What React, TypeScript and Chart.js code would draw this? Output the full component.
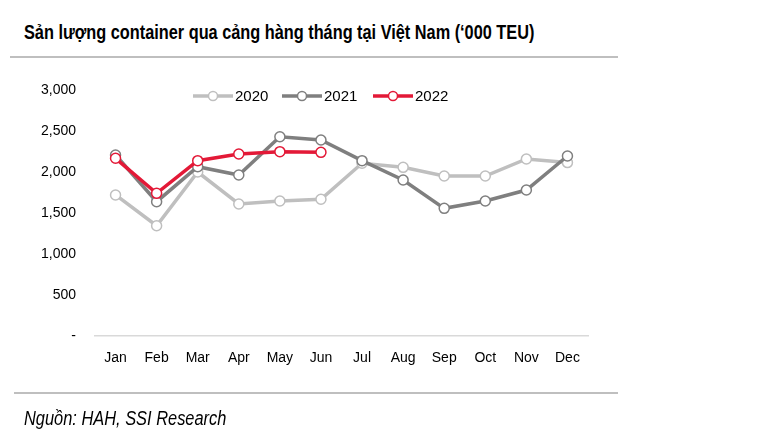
import React, { useEffect, useRef } from "react";
import { Chart, registerables } from "chart.js";

Chart.register(...registerables);

const months = ["Jan", "Feb", "Mar", "Apr", "May", "Jun", "Jul", "Aug", "Sep", "Oct", "Nov", "Dec"];
const series2020 = [1720, 1345, 2000, 1610, 1646, 1667, 2106, 2057, 1951, 1951, 2159, 2115];
const series2021 = [2207, 1638, 2065, 1963, 2430, 2390, 2138, 1902, 1557, 1646, 1780, 2195];
const series2022 = [2167, 1740, 2138, 2220, 2248, 2240];
const yTicks = [0, 500, 1000, 1500, 2000, 2500, 3000];
const seriesNames = ["2020", "2021", "2022"];
const seriesColors = ["#BFBFBF", "#7F7F7F", "#E31937"];

const FONT = "'Liberation Sans', Arial, sans-serif";

const legendPlugin = {
  id: "customLegend",
  afterDraw(chart: any) {
    const ctx = chart.ctx;
    const y = 96;
    const starts = [193, 282, 373];
    ctx.save();
    seriesNames.forEach((name, i) => {
      const x0 = starts[i];
      ctx.strokeStyle = seriesColors[i];
      ctx.lineWidth = 3.5;
      ctx.beginPath();
      ctx.moveTo(x0, y);
      ctx.lineTo(x0 + 40, y);
      ctx.stroke();
      ctx.beginPath();
      ctx.arc(x0 + 20, y, 4.5, 0, Math.PI * 2);
      ctx.fillStyle = "#ffffff";
      ctx.fill();
      ctx.lineWidth = 1.5;
      ctx.stroke();
      ctx.fillStyle = "#000000";
      ctx.font = `15px ${FONT}`;
      ctx.textBaseline = "middle";
      ctx.textAlign = "left";
      ctx.fillText(name, x0 + 42, y + 1);
    });
    ctx.restore();
  },
};

export default function App() {
  const ref = useRef<HTMLCanvasElement | null>(null);

  useEffect(() => {
    if (!ref.current) return;
    const mk = (i: number, data: number[], order: number) => ({
      label: seriesNames[i],
      data,
      borderColor: seriesColors[i],
      backgroundColor: "#ffffff",
      borderWidth: 3.5,
      pointRadius: 5,
      pointBorderWidth: 1.5,
      pointBackgroundColor: "#ffffff",
      pointBorderColor: seriesColors[i],
      tension: 0,
      order,
    });
    const chart = new Chart(ref.current, {
      type: "line",
      data: {
        labels: months,
        datasets: [mk(2, series2022, 0), mk(1, series2021, 1), mk(0, series2020, 2)],
      },
      plugins: [legendPlugin],
      options: {
        animation: false,
        responsive: false,
        maintainAspectRatio: false,
        layout: { padding: { left: 0, right: 182, top: 90, bottom: 64 } },
        plugins: {
          legend: { display: false },
          tooltip: { enabled: false },
          title: { display: false },
        },
        scales: {
          x: {
            offset: true,
            grid: { display: false, drawTicks: false, offset: true },
            border: { display: true, color: "#D9D9D9", width: 1.5 },
            ticks: {
              color: "#000000",
              font: { family: FONT, size: 14 },
              padding: 14,
              maxRotation: 0,
              autoSkip: false,
            },
            afterFit: (s: any) => {
              s.height = 40;
            },
          },
          y: {
            min: 0,
            max: 3000,
            grid: { display: false, drawTicks: false },
            border: { display: false },
            afterBuildTicks: (s: any) => {
              s.ticks = yTicks.map((v) => ({ value: v }));
            },
            ticks: {
              color: "#000000",
              font: { family: FONT, size: 14 },
              padding: 19,
              callback: (v: any) => (Number(v) === 0 ? "-" : Number(v).toLocaleString("en-US")),
            },
            afterFit: (s: any) => {
              s.width = 95;
            },
          },
        },
      },
    });
    return () => chart.destroy();
  }, []);

  return (
    <div style={{ position: "fixed", left: 0, top: 0, width: 770, height: 440, background: "#fff" }}>
      <div
        style={{
          position: "absolute",
          left: 24,
          top: 21,
          fontFamily: FONT,
          fontWeight: "bold",
          fontSize: 20,
          lineHeight: "23px",
          color: "#000",
          whiteSpace: "nowrap",
          transform: "scaleX(0.815)",
          transformOrigin: "left top",
        }}
      >
        Sản lượng container qua cảng hàng tháng tại Việt Nam (‘000 TEU)
      </div>
      <div style={{ position: "absolute", left: 10, top: 56, width: 608, height: 2, background: "#BFBFBF" }} />
      <canvas ref={ref} width={770} height={440} style={{ position: "absolute", left: 0, top: 0 }} />
      <div style={{ position: "absolute", left: 14, top: 392, width: 604, height: 2, background: "#BFBFBF" }} />
      <div
        style={{
          position: "absolute",
          left: 24,
          top: 407,
          fontFamily: FONT,
          fontStyle: "italic",
          fontSize: 20,
          lineHeight: "23px",
          color: "#000",
          whiteSpace: "nowrap",
          transform: "scaleX(0.82)",
          transformOrigin: "left top",
        }}
      >
        Nguồn: HAH, SSI Research
      </div>
    </div>
  );
}
